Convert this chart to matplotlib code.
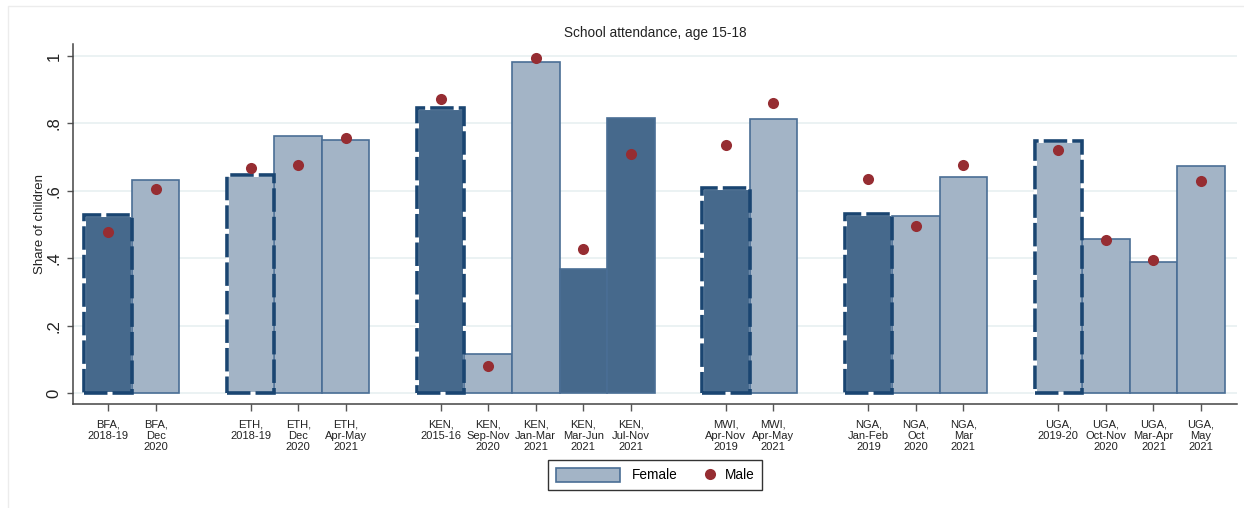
import matplotlib
matplotlib.use("Agg")
import matplotlib.pyplot as plt
from matplotlib.patches import Patch, Rectangle
from matplotlib.lines import Line2D
from matplotlib.legend_handler import HandlerLine2D

plt.rcParams['font.family'] = ['Liberation Sans', 'DejaVu Sans']

# Survey rounds per country
laender = ['BFA', 'ETH', 'KEN', 'MWI', 'NGA', 'UGA']
runden = [
    ['2018-19', 'Dec\n2020'],
    ['2018-19', 'Dec\n2020', 'Apr-May\n2021'],
    ['2015-16', 'Sep-Nov\n2020', 'Jan-Mar\n2021', 'Mar-Jun\n2021', 'Jul-Nov\n2021'],
    ['Apr-Nov\n2019', 'Apr-May\n2021'],
    ['Jan-Feb\n2019', 'Oct\n2020', 'Mar\n2021'],
    ['2019-20', 'Oct-Nov\n2020', 'Mar-Apr\n2021', 'May\n2021'],
]

# Anteil Schulbesuch, Alter 15-18
weiblich = [0.528, 0.632,
            0.647, 0.763, 0.751,
            0.847, 0.116, 0.981, 0.368, 0.816,
            0.607, 0.813,
            0.530, 0.525, 0.641,
            0.749, 0.456, 0.390, 0.675]
maennlich = [0.479, 0.605,
             0.667, 0.678, 0.758,
             0.873, 0.080, 0.994, 0.427, 0.710,
             0.735, 0.860,
             0.634, 0.495, 0.677,
             0.721, 0.454, 0.394, 0.628]
# dunkle Balken / Basisrunde (gestrichelt)
dunkel = [1, 0, 0, 0, 0, 1, 0, 0, 1, 1, 1, 0, 1, 0, 0, 0, 0, 0, 0]
basis = [1, 0, 1, 0, 0, 1, 0, 0, 0, 0, 1, 0, 1, 0, 0, 1, 0, 0, 0]

farbe_dunkel = '#46698c'
farbe_hell = '#a3b4c6'
farbe_rand = '#4a6e95'
farbe_strich = '#1a4571'
farbe_punkt = '#962d32'

# x-Positionen: eine Luecke zwischen den Laendern
positionen = []
beschriftungen = []
x = 0
for land, rs in zip(laender, runden):
    for r in rs:
        positionen.append(x)
        beschriftungen.append(f"{land},\n{r}")
        x += 1
    x += 1

fig = plt.figure(figsize=(12.44, 5.08), dpi=100)
fig.patches.append(Rectangle((8 / 1244, -0.1), 1.2, (508 - 6) / 508 + 0.1,
                             transform=fig.transFigure, fill=False,
                             edgecolor='#ececec', lw=1.0))
ax = fig.add_axes([73 / 1244, 104 / 508, (1237 - 73) / 1244, (404 - 44) / 508])

for xp, w, d, b in zip(positionen, weiblich, dunkel, basis):
    fc = farbe_dunkel if d else farbe_hell
    if b:
        ax.bar(xp, w, width=1.0, color=fc, edgecolor='white', lw=2.2, zorder=2)
        ax.bar(xp, w, width=1.0, fill=False, edgecolor=farbe_strich, lw=2.6,
               linestyle=(0, (6.5, 1.4)), zorder=3)
    else:
        ax.bar(xp, w, width=1.0, color=fc, edgecolor=farbe_rand, lw=1.2, zorder=2)

ax.scatter(positionen, maennlich, s=64, color=farbe_punkt, zorder=4, linewidths=0)

ax.set_xlim(-0.74, 23.76)
ax.set_ylim(-0.0326, 1.0356)
ax.set_xticks(positionen, beschriftungen, fontsize=8, linespacing=1.1, color='#222222')
ax.set_yticks([0, 0.2, 0.4, 0.6, 0.8, 1.0], ['0', '.2', '.4', '.6', '.8', '1'],
              fontsize=12, color='#222222')
for lab in ax.get_yticklabels():
    lab.set_rotation(90)
    lab.set_va('center')
ax.tick_params(axis='x', length=5, width=1, color='#555555', pad=6.5)
ax.tick_params(axis='y', length=4.3, width=1, color='#555555', pad=4)

ax.grid(axis='y', color='#e9f1f2', lw=1.3)
ax.set_axisbelow(True)
for s in ['top', 'right']:
    ax.spines[s].set_visible(False)
for s in ['left', 'bottom']:
    ax.spines[s].set_color('#444444')
    ax.spines[s].set_linewidth(1.1)

ax.set_ylabel('Share of children', fontsize=9.5, labelpad=0, color='#222222')
ax.set_title('School attendance, age 15-18', fontsize=9.8, pad=5, color='#222222')

# Legende
h_w = Patch(facecolor=farbe_hell, edgecolor=farbe_rand, lw=1.2)
h_m = Line2D([], [], marker='o', ls='none', color=farbe_punkt, markersize=8,
             markeredgewidth=0)
leg = fig.legend([h_w, h_m], ['Female', 'Male'], loc='center',
                 bbox_to_anchor=(655 / 1244, (508 - 475) / 508), ncol=2,
                 fontsize=9.8, handlelength=4.7, handleheight=1.25,
                 handletextpad=0.86, columnspacing=-2.1, borderpad=0.59,
                 fancybox=False, edgecolor='black',
                 handler_map={h_m: HandlerLine2D(xpad=4.26)})
leg.get_frame().set_linewidth(1.0)

fig.savefig('out.png', dpi=100)
